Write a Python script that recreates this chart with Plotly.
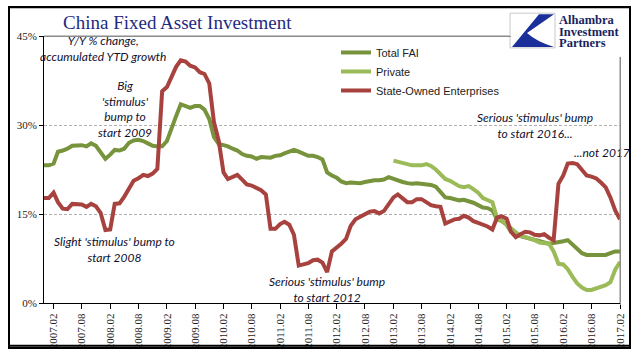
import pandas as pd
import plotly.graph_objects as go

# ---------------- data ----------------
months = pd.date_range("2006-12-01", periods=123, freq="MS")

total_fai = [23.2, 23.2, 23.5, 25.5, 25.7, 26.0, 26.5, 26.6, 26.6, 26.4,
             26.9, 26.5, 25.3, 24.3, 25.0, 25.8, 25.7, 26.0, 27.0, 27.4,
             27.5, 27.3, 26.9, 26.5, 26.4, 26.4, 27.3, 29.5, 31.5, 33.5,
             33.2, 32.9, 33.2, 33.2, 32.6, 31.0, 28.0, 26.8, 26.6, 26.4,
             26.0, 25.7, 25.1, 24.8, 24.7, 24.3, 24.6, 24.6, 24.5, 24.8,
             24.9, 25.2, 25.6, 25.8, 25.5, 25.2, 24.8, 24.8, 24.6, 24.2,
             22.0, 21.5, 21.1, 20.5, 20.2, 20.3, 20.3, 20.2, 20.4, 20.6,
             20.7, 20.7, 20.8, 21.2, 20.9, 20.6, 20.4, 20.2, 20.1, 20.2,
             20.1, 20.1, 19.9, 19.6, 18.6, 17.8, 17.7, 17.5, 17.3, 17.4,
             17.2, 16.9, 16.5, 16.1, 16.0, 15.6, 14.1, 13.8, 13.2, 12.0,
             11.5, 11.3, 11.1, 10.9, 10.7, 10.4, 10.2, 10.0, 10.1, 10.2,
             10.4, 10.6, 9.8, 9.0, 8.4, 8.1, 8.1, 8.1, 8.2, 8.1,
             8.4, 8.7, 8.7]

private = [None] * 74 + [
             24.0, 23.8, 23.5, 23.3, 23.2, 23.2, 23.2, 23.4, 23.1, 22.5,
             21.7, 20.9, 20.6, 20.1, 19.7, 19.5, 19.7, 19.2, 18.6, 17.7,
             17.4, 17.0, 14.3, 13.8, 13.3, 12.6, 12.0, 11.3, 11.1, 10.9,
             10.6, 10.2, 10.1, 10.0, 8.7, 6.6, 6.5, 5.7, 4.4, 3.3,
             2.6, 2.2, 2.2, 2.5, 2.8, 3.0, 3.5, 5.6, 6.9]

soe = [17.7, 17.7, 18.6, 17.0, 15.9, 15.8, 16.7, 16.6, 16.6, 16.2,
       16.7, 16.3, 15.2, 12.3, 12.4, 16.7, 16.8, 17.9, 19.4, 20.6,
       21.0, 21.6, 21.4, 21.8, 22.6, 35.7, 36.4, 38.1, 39.8, 40.9,
       40.7, 40.0, 39.7, 38.9, 38.6, 37.0, 30.5, 27.3, 22.0, 20.9,
       21.3, 21.6, 20.8, 20.0, 19.8, 19.4, 19.0, 18.3, 12.5, 12.5,
       13.3, 13.7, 13.2, 11.5, 6.3, 6.5, 6.7, 7.2, 7.3, 6.8,
       5.2, 8.7, 9.3, 10.0, 10.8, 13.0, 14.1, 14.5, 15.1, 15.4,
       15.5, 15.1, 15.5, 16.8, 17.8, 18.3, 17.6, 17.0, 17.0, 17.5,
       17.5, 16.9, 16.5, 16.3, 16.2, 13.4, 13.8, 14.1, 14.2, 14.7,
       14.4, 13.8, 13.5, 13.2, 12.9, 12.4, 14.4, 14.6, 14.2, 12.0,
       11.1, 11.6, 12.0, 11.9, 11.5, 11.4, 11.6, 11.0, 10.6, 20.1,
       21.5, 23.5, 23.6, 23.4, 22.5, 21.5, 21.3, 21.0, 20.3, 19.5,
       17.8, 15.6, 14.1]

series_names = ["Total FAI", "Private", "State-Owned Enterprises"]
y_ticks = [0, 15, 30, 45]
y_tick_labels = ["0%", "15%", "30%", "45%"]
x_tick_dates = pd.date_range("2007-02-01", "2017-02-01", freq="6MS")
x_tick_labels = [d.strftime("%Y.%m") for d in x_tick_dates]

# ---------------- layout helpers (pixel -> paper) ----------------
W_FIG, H_FIG = 641, 361
L, R, T, B = 44, 620, 36, 305
PW, PH = R - L, B - T


def px(x):
    return (x - L) / PW


def py(y):
    return (B - y) / PH


colors = ["#77933C", "#9BBB59", "#A8423F"]

fig = go.Figure()
for name, vals, col in zip(series_names, [total_fai, private, soe], colors):
    fig.add_trace(go.Scatter(x=months, y=vals, name=name, mode="lines",
                             line=dict(color=col, width=4),
                             connectgaps=False))

ann_font = dict(family="Lato, Noto Sans, sans-serif", size=12, color="#101030")
annotations = []


def note(text, x, y, **kw):
    d = dict(text=text, x=px(x), y=py(y), xref="paper", yref="paper",
             showarrow=False, font=ann_font, xanchor="center", yanchor="middle",
             align="center")
    d.update(kw)
    annotations.append(d)


note("<i>Y/Y % change,<br>accumulated YTD growth</i>", 103, 49)
note("<i>Big<br>'stimulus'<br>bump to<br>start 2009</i>", 125, 110)
note("<i>Slight 'stimulus' bump to<br>start 2008</i>", 114, 251)
note("<i>Serious 'stimulus' bump<br>to start 2012</i>", 327, 291)
note("<i>Serious 'stimulus' bump<br>to start 2016...</i>", 535, 126)
note("<i>...not 2017</i>", 602, 153)

# title
note("China Fixed Asset Investment", 177, 22,
     font=dict(family="Liberation Serif, serif", size=19, color="#1F2A80"))

# logo text
for i, word in enumerate(["Alhambra", "Investment", "Partners"]):
    note("<b>%s</b>" % word, 557, 20 + i * 11.5, xanchor="left",
         font=dict(family="Liberation Serif, serif", size=12.5,
                   color="#1A1F5E"))

shapes = [
    # outer frame
    dict(type="rect", xref="paper", yref="paper", x0=px(9), x1=px(630),
         y0=py(348), y1=py(7), line=dict(color="#000000", width=2)),
    # white area behind the logo (hides top grid line)
    dict(type="rect", xref="paper", yref="paper", x0=px(511), x1=px(628),
         y0=py(57), y1=py(9), line=dict(width=0), fillcolor="white"),
    # plot border, visible parts
    dict(type="line", xref="paper", yref="paper", x0=px(44), x1=px(511),
         y0=py(36), y1=py(36), line=dict(color="#888888", width=1)),
    dict(type="line", xref="paper", yref="paper", x0=px(620), x1=px(620),
         y0=py(57), y1=py(305), line=dict(color="#888888", width=1)),
    # logo box
    dict(type="rect", xref="paper", yref="paper", x0=px(510), x1=px(555),
         y0=py(48), y1=py(13), line=dict(color="#c8c8c8", width=1),
         fillcolor="white"),
]
logo_path = "M %f,%f L %f,%f L %f,%f Q %f,%f %f,%f L %f,%f Z" % (
    px(539), py(14), px(554), py(14), px(527), py(33),
    px(537), py(42), px(554), py(47), px(512), py(47))
shapes.append(dict(type="path", xref="paper", yref="paper", path=logo_path,
                   fillcolor="#1B2F9B", line=dict(width=0)))

tick_font = dict(family="Liberation Serif, serif", size=11, color="#222")

fig.update_layout(
    width=W_FIG, height=H_FIG,
    margin=dict(l=L, r=W_FIG - R, t=T, b=H_FIG - B, pad=0),
    paper_bgcolor="white", plot_bgcolor="white",
    showlegend=True,
    legend=dict(x=px(336), y=py(38), xanchor="left", yanchor="top",
                bgcolor="rgba(0,0,0,0)",
                font=dict(family="Liberation Sans, Arial, sans-serif",
                          size=11, color="#222"),
                tracegroupgap=0),
    annotations=annotations,
    shapes=shapes,
    xaxis=dict(type="date", range=["2006-12-01", "2017-02-01"],
               tickvals=list(x_tick_dates), ticktext=x_tick_labels,
               tickangle=-90, showgrid=False, zeroline=False,
               showline=True, linecolor="black", linewidth=1,
               ticks="outside", ticklen=5, tickcolor="black",
               tickfont=tick_font),
    yaxis=dict(range=[0, 45], tickvals=y_ticks, ticktext=y_tick_labels,
               showgrid=True, gridcolor="#b0b0b0", griddash="3px,2px",
               gridwidth=1, zeroline=False,
               showline=True, linecolor="black", linewidth=1,
               ticks="outside", ticklen=4, tickcolor="black",
               tickfont=tick_font),
)

# page set-up: no body margin, plus a CSS frame / border overlay as backup
post_js = """
document.body.style.margin='0';
document.body.style.overflow='hidden';
function addBox(l, t, w, h, css) {
  var d = document.createElement('div');
  d.style.position = 'absolute';
  d.style.left = l + 'px'; d.style.top = t + 'px';
  d.style.width = w + 'px'; d.style.height = h + 'px';
  d.style.boxSizing = 'border-box';
  d.style.pointerEvents = 'none';
  d.style.cssText += css;
  document.body.appendChild(d);
}
addBox(8, 6, 623, 343, 'border:2px solid #000;');
addBox(44, 36, 467, 1, 'background:#8c8c8c;');
addBox(620, 57, 1, 248, 'background:#8c8c8c;');
"""

fig.write_html("out.html", config={"displayModeBar": False},
               post_script=post_js)
